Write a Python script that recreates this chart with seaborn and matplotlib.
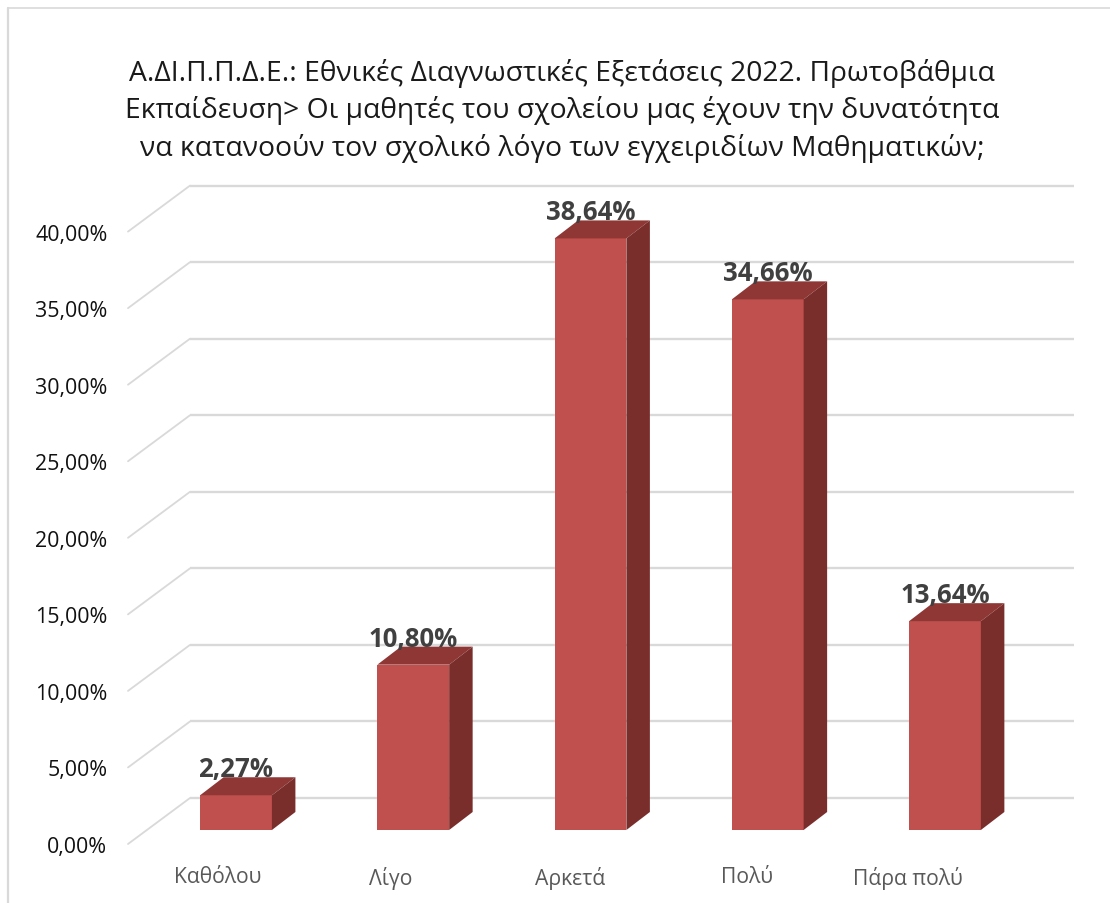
import matplotlib
matplotlib.use("Agg")
import matplotlib.pyplot as plt
import seaborn as sns
import pandas as pd
from matplotlib.lines import Line2D
from matplotlib.patches import Polygon
from matplotlib.transforms import ScaledTranslation

categories = ["Καθόλου", "Λίγο", "Αρκετά", "Πολύ", "Πάρα πολύ"]
values = [2.27, 10.80, 38.64, 34.66, 13.64]
y_ticks = [0, 5, 10, 15, 20, 25, 30, 35, 40]
title = ("Α.ΔΙ.Π.Π.Δ.Ε.: Εθνικές Διαγνωστικές Εξετάσεις 2022. Πρωτοβάθμια\n"
         "Εκπαίδευση> Οι μαθητές του σχολείου μας έχουν την δυνατότητα\n"
         "να κατανοούν τον σχολικό λόγο των εγχειριδίων Μαθηματικών;")

W, H = 1110, 904
sns.set_theme(style="white")
plt.rcParams["font.family"] = ["Open Sans", "DejaVu Sans"]

fig = plt.figure(figsize=(W / 100, H / 100), dpi=100, facecolor="white")
# bar plane: y=0 at pixel 831, 15.31 px per percent point
L, R, B, T = 147.4, 1033.6, 831.0, 831.0 - 40 * 15.31
ax = fig.add_axes([L / W, 1 - B / H, (R - L) / W, (B - T) / H])
ax.set_facecolor("none")

df = pd.DataFrame({"cat": categories, "val": values})
sns.barplot(data=df, x="cat", y="val", color="#C0504D", saturation=1,
            width=0.405, ax=ax, zorder=3, edgecolor="none", linewidth=0)
ax.set_xlim(-0.5, 4.5)
ax.set_ylim(0, 40)
ax.set_xlabel("")
ax.set_ylabel("")
for s in ax.spines.values():
    s.set_visible(False)

px_x = 5 / (R - L)          # data units per pixel, horizontally
px_y = 40 / (B - T)         # data units per pixel, vertically

# walls: back grid lines and left diagonal lines
back_dx, back_dy = 42.6 * px_x, 32 * px_y
front_dx, front_dy = -19.4 * px_x, -14 * px_y
grid = "#D9D9D9"
for v in y_ticks:
    ax.plot([-0.5 + back_dx, 4.5 + back_dx - 2 * px_x], [v + back_dy] * 2,
            color=grid, lw=1.7, clip_on=False, zorder=1, solid_capstyle="butt")
    ax.plot([-0.5 + front_dx, -0.5 + back_dx], [v + front_dy, v + back_dy],
            color=grid, lw=1.3, clip_on=False, zorder=1)

# 3D depth of the bars, derived from the bars drawn by seaborn
depth_x, depth_y = 23.5 * px_x, 18 * px_y
container = ax.containers[0]
for bar in container:
    x0, x1 = bar.get_x(), bar.get_x() + bar.get_width()
    h = bar.get_height()
    ax.add_patch(Polygon([(x0, h), (x1, h), (x1 + depth_x, h + depth_y), (x0 + depth_x, h + depth_y)],
                         closed=True, fc="#8E3735", ec="none", zorder=3, clip_on=False))
    ax.add_patch(Polygon([(x1, 0), (x1 + depth_x, depth_y), (x1 + depth_x, h + depth_y), (x1, h)],
                         closed=True, fc="#7A2E2C", ec="none", zorder=3, clip_on=False))

# data labels
labels = [f"{v:.2f}%".replace(".", ",") for v in values]
anns = ax.bar_label(container, labels=labels, padding=19 * 0.72, fontsize=18.5,
                    fontweight="bold", color="#404040", zorder=5, clip_on=False)
for a in anns:
    a.set_va("baseline")
    a.set_zorder(5)

# axis tick labels
ax.set_yticks(y_ticks)
ax.set_yticklabels([f"{v:.2f}%".replace(".", ",") for v in y_ticks],
                   fontsize=15.4, color="#111111")
ax.tick_params(axis="y", length=0, pad=40 * 0.72)
y_shift = ScaledTranslation(0, -14 / 100, fig.dpi_scale_trans)
for t in ax.get_yticklabels():
    t.set_transform(t.get_transform() + y_shift)

ax.set_xticks(range(len(categories)))
ax.set_xticklabels(categories, fontsize=15.2, color="#595959")
ax.tick_params(axis="x", length=0, pad=36 * 0.72)
x_nudges = [-18, -23, -20, -21, -37]  # px, layout only
for t, n in zip(ax.get_xticklabels(), x_nudges):
    t.set_transform(t.get_transform() + ScaledTranslation(n / 100, 0, fig.dpi_scale_trans))

# title
fig.text(562 / W, 1 - 111 / H, title, ha="center", va="center", fontsize=20.3,
         color="#1A1A1A", linespacing=1.4)

# chart frame
fig.add_artist(Line2D([8 / W, 8 / W], [0, 1 - 9 / H], color=grid, lw=1.6))
fig.add_artist(Line2D([8 / W, 1], [1 - 9 / H, 1 - 9 / H], color=grid, lw=1.2))

fig.savefig("out.png", dpi=100, facecolor="white")
